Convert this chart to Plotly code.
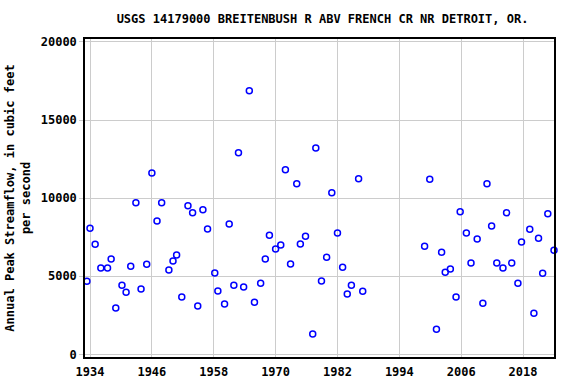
import plotly.graph_objects as go

years = [1933.4, 1934.0, 1935.0, 1936.1, 1937.4, 1938.1, 1939.0, 1940.2, 1941.0, 1941.9,
         1942.9, 1943.9, 1945.0, 1946.0, 1947.0, 1947.9, 1949.3, 1950.1, 1950.8, 1951.8,
         1953.0, 1953.9, 1954.9, 1955.9, 1956.8, 1958.2, 1958.8, 1960.1, 1961.0, 1961.9,
         1962.8, 1963.8, 1964.9, 1965.9, 1967.1, 1968.0, 1968.8, 1970.0, 1971.0, 1971.9,
         1972.9, 1974.1, 1974.8, 1975.8, 1977.2, 1977.8, 1978.9, 1979.9, 1980.9, 1982.0,
         1983.0, 1983.9, 1984.7, 1986.1, 1986.9,
         1998.9, 1999.9, 2001.2, 2002.2, 2002.9, 2003.9, 2005.0, 2005.8, 2007.0, 2007.9,
         2009.1, 2010.2, 2011.0, 2011.9, 2012.9, 2014.1, 2014.8, 2015.8, 2017.0, 2017.7,
         2019.3, 2020.1, 2021.0, 2021.8, 2022.8, 2024.0]
peaks = [4680, 8077, 7051, 5532, 5532, 6109, 2968, 4423, 3974, 5641,
         9699, 4186, 5769, 11603, 8545, 9699, 5404, 5981, 6365, 3673,
         9506, 9058, 3096, 9250, 8032, 5212, 4058, 3224, 8353, 4423,
         12904, 4314, 16870, 3333, 4551, 6109, 7628, 6750, 7006, 11814,
         5788, 10917, 7070, 7564, 1301, 13205, 4699, 6218, 10340, 7776,
         5577, 3865, 4423, 11237, 4038,
         6923, 11218, 1603, 6538, 5256, 5468, 3673, 9122, 7776, 5853,
         7391, 3269, 10917, 8224, 5853, 5532, 9058, 5853, 4551, 7199,
         8013, 2628, 7436, 5192, 8994, 6667]

x_ticks = [1934, 1946, 1958, 1970, 1982, 1994, 2006, 2018]
y_ticks = [0, 5000, 10000, 15000, 20000]

title_text = "USGS 14179000 BREITENBUSH R ABV FRENCH CR NR DETROIT, OR."
y_title = "Annual Peak Streamflow, in cubic feet<br>per second"

mono = "DejaVu Sans Mono"

fig = go.Figure(go.Scatter(
    x=years, y=peaks, mode="markers",
    marker=dict(symbol="circle-open", size=6, color="#0000ff", line=dict(width=1.5, color="#0000ff")),
    cliponaxis=False, showlegend=False,
))

fig.update_layout(
    width=576, height=384,
    margin=dict(l=85, r=22, t=39, b=27),
    paper_bgcolor="white", plot_bgcolor="white",
    title=dict(text="<b>" + title_text + "</b>", x=0.56, xanchor="center", y=0.95, yanchor="middle",
               font=dict(family=mono, size=12, color="black")),
    font=dict(family=mono, size=12, color="black"),
)
fig.update_xaxes(
    range=[1933.03, 2024.0], tickvals=x_ticks, ticktext=["<b>%d</b>" % t for t in x_ticks],
    showgrid=True, gridcolor="#cccccc", gridwidth=1, automargin=False,
    showline=True, linecolor="black", linewidth=1.5, mirror=True,
    ticks="outside", ticklen=3, tickcolor="rgba(0,0,0,0)", zeroline=False,
    tickfont=dict(family=mono, size=12),
)
fig.update_yaxes(
    range=[-170, 20190], tickvals=y_ticks, ticktext=["<b>%d</b>" % t for t in y_ticks],
    showgrid=True, gridcolor="#cccccc", gridwidth=1, automargin=False,
    showline=True, linecolor="black", linewidth=1.5, mirror=True,
    ticks="outside", ticklen=4, tickcolor="#cccccc", zeroline=False,
    tickfont=dict(family=mono, size=12),
    title=dict(text="<b>" + y_title + "</b>", font=dict(family=mono, size=12), standoff=8),
)

fig.write_html("out.html")
